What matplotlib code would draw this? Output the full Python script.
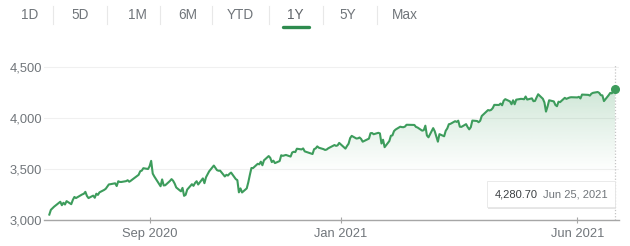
import numpy as np
import pandas as pd
import matplotlib
matplotlib.use("Agg")
import matplotlib.pyplot as plt
import matplotlib.dates as mdates
from matplotlib.patches import FancyBboxPatch
from matplotlib.lines import Line2D

plt.rcParams['font.family'] = ['Liberation Sans', 'DejaVu Sans']

# ---- data: S&P 500 daily closes, Jun 29 2020 .. Jun 25 2021 ----
jun20 = [3053, 3100]
jul20 = [3115, 3130, 3179, 3145, 3169, 3152, 3185, 3155, 3197, 3226, 3215, 3224,
         3251, 3257, 3276, 3236, 3215, 3239, 3218, 3258, 3246, 3271]
aug20 = [3295, 3306, 3327, 3349, 3351, 3360, 3333, 3380, 3373, 3373, 3381, 3390,
         3375, 3385, 3397, 3431, 3443, 3478, 3484, 3508, 3500]
sep20 = [3527, 3580, 3455, 3427, 3331, 3398, 3339, 3341, 3383, 3401, 3385, 3357,
         3319, 3281, 3315, 3237, 3247, 3298, 3351, 3335, 3363]
oct20 = [3380, 3348, 3408, 3361, 3419, 3447, 3477, 3534, 3512, 3489, 3483, 3484,
         3427, 3443, 3436, 3453, 3465, 3401, 3391, 3271, 3310, 3270]
nov20 = [3310, 3370, 3443, 3510, 3509, 3551, 3546, 3572, 3537, 3585, 3627, 3610,
         3568, 3582, 3558, 3578, 3635, 3629, 3638, 3622]
dec20 = [3662, 3669, 3666, 3699, 3692, 3702, 3673, 3668, 3663, 3647, 3695, 3702,
         3722, 3709, 3695, 3687, 3691, 3703, 3735, 3727, 3732, 3756]
jan21 = [3700, 3726, 3748, 3803, 3825, 3799, 3801, 3809, 3795, 3768, 3798, 3851,
         3853, 3841, 3855, 3849, 3750, 3787, 3714]
feb21 = [3774, 3826, 3830, 3872, 3887, 3915, 3911, 3910, 3916, 3934, 3933, 3932,
         3913, 3907, 3876, 3881, 3925, 3829, 3811]
mar21 = [3901, 3870, 3820, 3768, 3842, 3821, 3875, 3898, 3939, 3943, 3969, 3962,
         3974, 3915, 3913, 3940, 3911, 3889, 3910, 3975, 3971, 3959, 3973]
apr21 = [4020, 4078, 4074, 4080, 4097, 4129, 4128, 4142, 4125, 4170, 4185, 4163,
         4135, 4174, 4135, 4180, 4188, 4187, 4184, 4211, 4181]
may21 = [4193, 4165, 4168, 4202, 4233, 4189, 4153, 4063, 4113, 4174, 4163, 4128,
         4116, 4160, 4156, 4198, 4188, 4195, 4201, 4204]
jun21 = [4202, 4208, 4192, 4230, 4227, 4227, 4220, 4239, 4247, 4255, 4246, 4224,
         4222, 4166, 4224, 4246, 4242, 4266, 4280.70]

market_holidays = ['2020-07-03', '2020-09-07', '2020-11-26', '2020-12-25', '2021-01-01',
                   '2021-01-18', '2021-02-15', '2021-04-02', '2021-05-31']
start_date, end_date = '2020-06-29', '2021-06-25'

y_ticks = [3000, 3500, 4000, 4500]
x_tick_dates = ['2020-09-01', '2021-01-01', '2021-06-01']
x_tick_labels = ['Sep 2020', 'Jan 2021', 'Jun 2021']
tabs = ['1D', '5D', '1M', '6M', 'YTD', '1Y', '5Y', 'Max']
active_tab = '1Y'
tooltip_value = '4,280.70'
tooltip_date = 'Jun 25, 2021'

values = np.array(jun20 + jul20 + aug20 + sep20 + oct20 + nov20 + dec20 +
                  jan21 + feb21 + mar21 + apr21 + may21 + jun21, dtype=float)
dates = pd.bdate_range(start_date, end_date, freq='C', holidays=market_holidays)
assert len(dates) == len(values)

# ---- figure ----
W, H = 630, 246
fig = plt.figure(figsize=(W / 100, H / 100), dpi=100)
fig.patch.set_facecolor('white')

def fx(px):
    return px / W

def fy(py):
    return 1 - py / H

ax_l, ax_r, ax_t, ax_b = 44, 619, 65, 220
ax = fig.add_axes([fx(ax_l), fy(ax_b), fx(ax_r - ax_l), (ax_b - ax_t) / H])

green = '#3d9c5c'
label_gray = '#70757a'
x = mdates.date2num(dates)
x0 = x[0] - 3.4
x1 = x[-1] + 2.6
ylo, yhi = 3000, 4520
ax.set_xlim(x0, x1)
ax.set_ylim(ylo, yhi)

# gradient fill under line
poly = ax.fill_between(x, values, ylo, color='none', lw=0)
grad = np.zeros((256, 1, 4))
rgb = matplotlib.colors.to_rgb(green)
grad[..., 0], grad[..., 1], grad[..., 2] = rgb
yy = np.linspace(yhi, ylo, 256)
alpha = np.clip((yy - 3450) / (4350 - 3450), 0, 1) ** 1.1 * 0.27
grad[:, 0, 3] = alpha
img = ax.imshow(grad, extent=[x0, x1, ylo, yhi], aspect='auto', origin='upper',
                zorder=1, interpolation='bilinear')
img.set_clip_path(poly.get_paths()[0], transform=ax.transData)

ax.plot(x, values, color=green, lw=1.5, zorder=3, solid_joinstyle='round')
ax.plot([x[-1]], [values[-1]], 'o', color=green, ms=5.5, zorder=4)
ax.axvline(x[-1], ymin=0, ymax=1, color='#c4c4c4', ls=(0, (1, 1.5)), lw=0.9, zorder=2)

for s in ['top', 'right', 'left']:
    ax.spines[s].set_visible(False)
ax.spines['bottom'].set_color('#a6a6a6')
ax.spines['bottom'].set_linewidth(1.0)

ax.set_yticks(y_ticks)
ax.set_yticklabels([f'{v:,}' for v in y_ticks])
ax.yaxis.grid(True, color='#f0f0f0', lw=0.8)
ax.set_axisbelow(True)
ax.tick_params(axis='y', length=0, pad=1.5, labelsize=9.3, labelcolor=label_gray)
ax.set_xticks(mdates.date2num(pd.to_datetime(x_tick_dates)))
ax.set_xticklabels(x_tick_labels)
ax.tick_params(axis='x', length=4, width=0.8, color='#a6a6a6', direction='inout',
               pad=3.5, labelsize=9.3, labelcolor=label_gray)

# tooltip
tb_l, tb_r, tb_t, tb_b = 487, 615, 181, 207
shadow = FancyBboxPatch((fx(tb_l + 0.5), fy(tb_b + 1.5)), fx(tb_r - tb_l), (tb_b - tb_t) / H,
                        boxstyle='square,pad=0', transform=fig.transFigure,
                        facecolor='#000000', alpha=0.10, edgecolor='none', zorder=9)
box = FancyBboxPatch((fx(tb_l), fy(tb_b)), fx(tb_r - tb_l), (tb_b - tb_t) / H,
                     boxstyle='square,pad=0', transform=fig.transFigure,
                     facecolor='white', edgecolor='#e6e6e6', lw=0.6, zorder=10)
fig.patches.extend([shadow, box])
fig.text(fx(495), fy(194.5), tooltip_value, fontsize=8.0, color='#3c4043',
         va='center', ha='left', zorder=11)
fig.text(fx(608), fy(194.5), tooltip_date, fontsize=8.0, color=label_gray,
         va='center', ha='right', zorder=11)

# range tabs
tab_centers = [30, 80, 137, 188, 240, 295, 348, 405]
seps = [53, 107, 160, 212, 269, 323, 377]
for t, cx in zip(tabs, tab_centers):
    fig.text(fx(cx), fy(15), t, fontsize=9.8, color=label_gray if t != active_tab else '#5f6368',
             ha='center', va='center')
for sx in seps:
    fig.add_artist(Line2D([fx(sx), fx(sx)], [fy(6), fy(24)], color='#e8e8e8', lw=0.8))
fig.add_artist(Line2D([fx(283), fx(309)], [fy(26.5), fy(26.5)], color='#2e8b4e', lw=2.4,
                      solid_capstyle='round'))

fig.savefig('out.png', dpi=100, facecolor='white')
